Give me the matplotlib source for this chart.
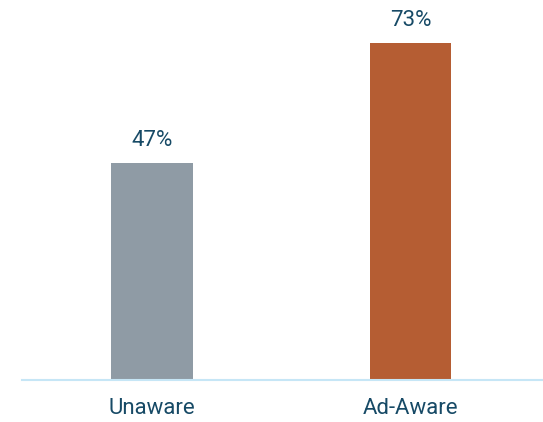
import matplotlib.pyplot as plt

groups = ["Unaware", "Ad-Aware"]
shares = [47, 73]
bar_colors = ["#8f9ba5", "#b55d33"]

plt.rcParams['font.family'] = ['Roboto', 'DejaVu Sans']
text_color = "#174a66"

fig = plt.figure(figsize=(5.43, 4.22), dpi=100)
ax = fig.add_axes([22 / 543, 42 / 422, 1 - 22 / 543, 380 / 422])

x = range(len(groups))
bars = ax.bar(x, shares, width=0.313, color=bar_colors)

for b, v in zip(bars, shares):
    ax.annotate(f"{v}%", (b.get_x() + b.get_width() / 2, v),
                xytext=(0, 9), textcoords="offset points",
                ha="center", va="bottom", fontsize=16, color=text_color)

ax.set_xlim(-0.502, 1.51)
ax.set_ylim(0, 82.4)
ax.set_xticks(list(x))
ax.set_xticklabels(groups, fontsize=16, color=text_color)
ax.tick_params(axis="x", length=0, pad=13)
ax.set_yticks([])

for side in ["top", "right", "left"]:
    ax.spines[side].set_visible(False)
ax.spines["bottom"].set_color("#c6e6f6")
ax.spines["bottom"].set_linewidth(1.5)

fig.savefig("out.png", dpi=100)
